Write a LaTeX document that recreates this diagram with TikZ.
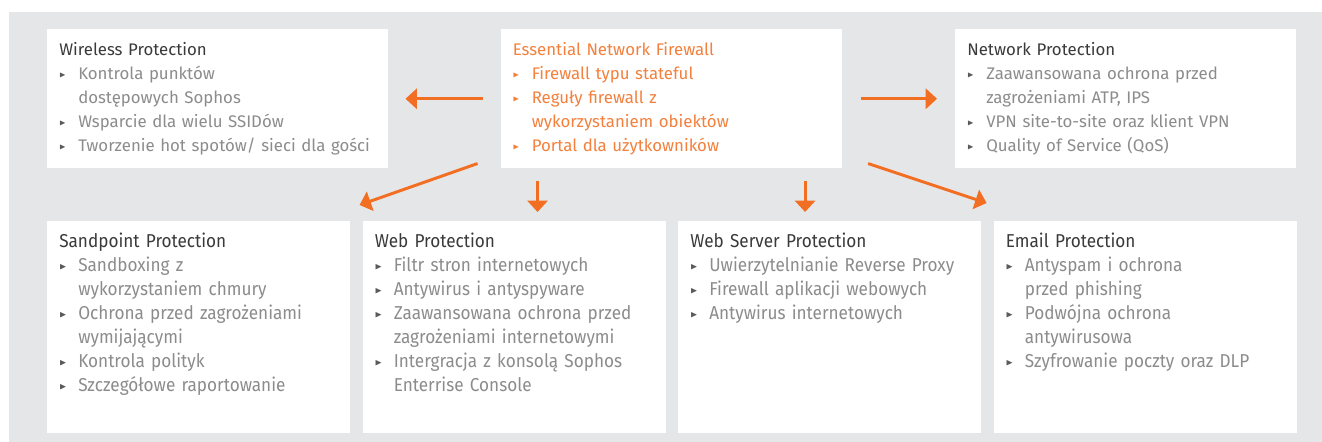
\documentclass[tikz,border=0pt]{standalone}
\usepackage{fontspec}
\usepackage{amssymb}
\usepackage{graphicx}
\setmainfont{Fira Sans}
\newfontfamily\narrowfont{Fira Sans}[FakeStretch=0.92]
\usetikzlibrary{arrows.meta, positioning, calc}
\definecolor{bggrey}{RGB}{229, 230, 231}
\definecolor{titlegrey}{RGB}{58, 58, 58}
\definecolor{itemgrey}{RGB}{140, 140, 140}
\definecolor{markgrey}{RGB}{90, 90, 90}
\definecolor{sophos}{RGB}{242, 110, 34}
\definecolor{hubtext}{RGB}{243, 128, 60}
\newcommand{\bul}{\makebox[14.25pt][l]{\raisebox{1.6pt}{\textcolor{markgrey}{\scalebox{0.5}{$\blacktriangleright$}}}}}
\newcommand{\hbul}{\makebox[14.25pt][l]{\raisebox{1.6pt}{\textcolor{hubtext}{\scalebox{0.5}{$\blacktriangleright$}}}}}
\newcommand{\ind}{\hspace*{14.25pt}}

\begin{document}
\begin{tikzpicture}[
            x=0.75pt, y=-0.75pt,
            box/.style={rectangle, fill=white, anchor=north west, align=left, inner ysep=0pt, inner xsep=9pt, text=itemgrey},
            topbox/.style={box, text width=237.75pt, text height=19.5pt, text depth=84.75pt, font=\fontsize{12.6}{18}\selectfont},
            botbox/.style={box, text width=209.25pt, text height=19.5pt, text depth=139.5pt, font=\narrowfont\fontsize{14}{18}\selectfont},
            arrow/.style={-{Triangle[width=15pt, length=8.5pt]}, line width=2.2pt, sophos}
        ]
            \useasboundingbox (0,0) rectangle (1322,442);
            \fill[bggrey] (9,12) rectangle (1322,442);

            % Nodes
            \node[topbox] (wireless) at (47,29) {\textcolor{titlegrey}{Wireless Protection}\\
                \bul Kontrola punktów\\ \ind dostępowych Sophos\\
                \bul Wsparcie dla wielu SSIDów\\
                \bul Tworzenie hot spotów/ sieci dla gości};
            \node[topbox, text=hubtext, right=84pt of wireless] (hub) {Essential Network Firewall\\
                \hbul Firewall typu stateful\\
                \hbul Reguły firewall z\\ \ind wykorzystaniem obiektów\\
                \hbul Portal dla użytkowników};
            \node[topbox, right=84.75pt of hub] (network) {\textcolor{titlegrey}{Network Protection}\\
                \bul Zaawansowana ochrona przed\\ \ind zagrożeniami ATP, IPS\\
                \bul VPN site-to-site oraz klient VPN\\
                \bul Quality of Service (QoS)};

            \node[botbox] (sandpoint) at (47,221) {\textcolor{titlegrey}{Sandpoint Protection}\\
                \bul Sandboxing z\\ \ind wykorzystaniem chmury\\
                \bul Ochrona przed zagrożeniami\\ \ind wymijającymi\\
                \bul Kontrola polityk\\
                \bul Szczegółowe raportowanie};
            \node[botbox, right=9pt of sandpoint] (web) {\textcolor{titlegrey}{Web Protection}\\
                \bul Filtr stron internetowych\\
                \bul Antywirus i antyspyware\\
                \bul Zaawansowana ochrona przed\\ \ind zagrożeniami internetowymi\\
                \bul Intergracja z konsolą Sophos\\ \ind Enterrise Console};
            \node[botbox, right=9pt of web] (webserver) {\textcolor{titlegrey}{Web Server Protection}\\
                \bul Uwierzytelnianie Reverse Proxy\\
                \bul Firewall aplikacji webowych\\
                \bul Antywirus internetowych};
            \node[botbox, right=9pt of webserver] (email) {\textcolor{titlegrey}{Email Protection}\\
                \bul Antyspam i ochrona\\ \ind przed phishing\\
                \bul Podwójna ochrona\\ \ind antywirusowa\\
                \bul Szyfrowanie poczty oraz DLP};

            % Arrows
            \draw[arrow, shorten <=13.5pt, shorten >=12.75pt] (hub.west) -- (wireless.east);
            \draw[arrow, shorten <=14.25pt, shorten >=13.5pt] (hub.east) -- (network.west);
            \draw[arrow] ([shift={(-23,-5)}]hub.south west) -- ([shift={(9,-16)}]sandpoint.north east);
            \draw[arrow, shorten <=9pt, shorten >=6.75pt] ([xshift=27.75pt]hub.south west) -- ([xshift=27.75pt]hub.south west |- web.north);
            \draw[arrow, shorten <=9pt, shorten >=6.75pt] ([xshift=-27.75pt]hub.south east) -- ([xshift=-27.75pt]hub.south east |- webserver.north);
            \draw[arrow] ([shift={(26,-5)}]hub.south east) -- ([shift={(-7,-18)}]email.north west);
        \end{tikzpicture}
\end{document}
